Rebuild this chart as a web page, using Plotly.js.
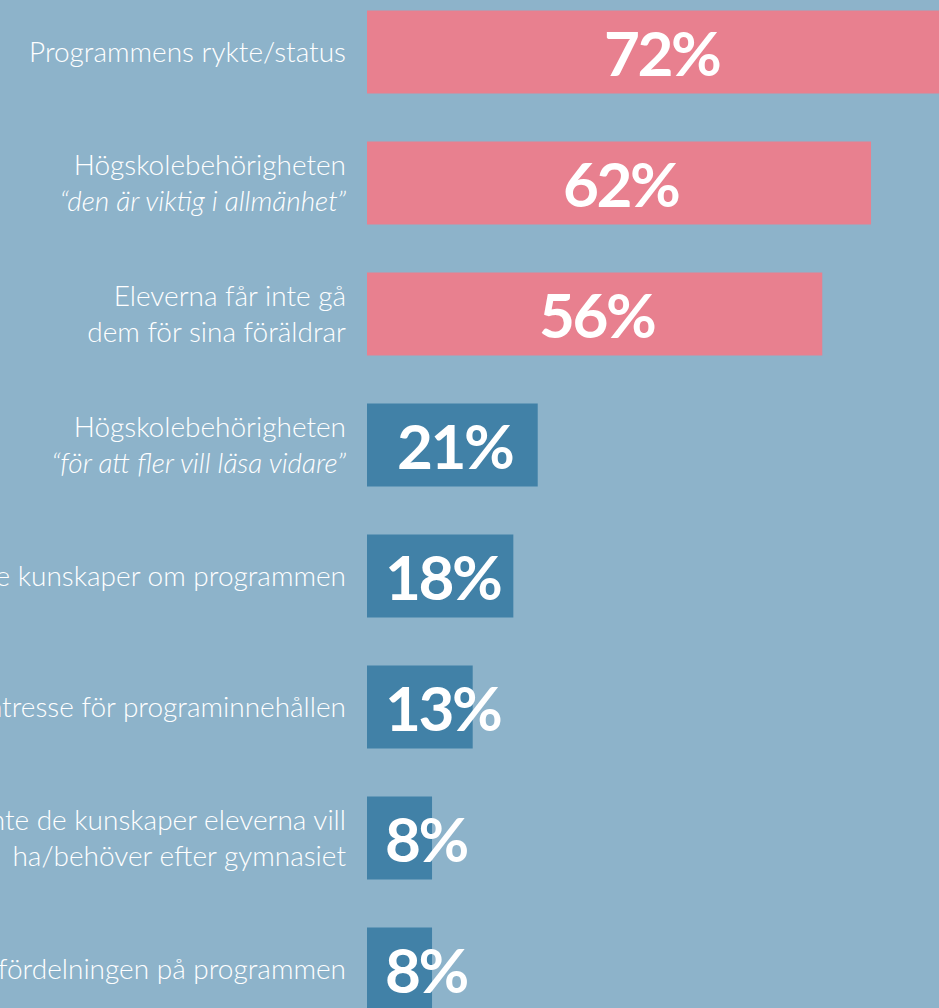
<!DOCTYPE html>
<html>
<head>
<meta charset="utf-8">
<script src="https://cdn.plot.ly/plotly-3.0.1.min.js"></script>
<style>
html,body{margin:0;padding:0;background:#8db3ca;}
#chart{width:939px;height:1008px;}
.annotation-text{letter-spacing:-2.5px;}
</style>
</head>
<body>
<div id="chart"></div>
<script>
// Data
const labels = [
  "Programmens rykte/status",
  "Högskolebehörigheten<br><i>“den är viktig i allmänhet”</i>",
  "Eleverna får inte gå<br>dem för sina föräldrar",
  "Högskolebehörigheten<br><i>“för att fler vill läsa vidare”</i>",
  "Bristande kunskaper om programmen",
  "Bristande intresse för programinnehållen",
  "Programmen ger inte de kunskaper eleverna vill<br>ha/behöver efter gymnasiet",
  "Könsfördelningen på programmen"
];
const values = [72, 62, 56, 21, 18, 13, 8, 8];

// Styles
const PINK = "#e8808f";
const BLUE = "#4181a7";
const BG = "#8db3ca";

const idx = labels.map((_, i) => i);
const colors = values.map(v => v >= 50 ? PINK : BLUE);

const trace = {
  type: "bar",
  orientation: "h",
  y: idx,
  x: values,
  width: 0.634,
  marker: {color: colors, line: {width: 0}},
  hoverinfo: "none"
};

const pxPerUnit = 572 / 70.36;
const annotations = values.map((v, i) => {
  const small = v < 15;
  return {
    x: small ? 16 / pxPerUnit : v / 2 + 0.3,
    y: i,
    xref: "x", yref: "y",
    text: v + "%",
    showarrow: false,
    xanchor: small ? "left" : "center",
    yanchor: "middle",
    font: {family: "Lato, 'Open Sans', sans-serif", size: 62, color: "#ffffff", weight: 700}
  };
});

const layout = {
  width: 939,
  height: 1008,
  margin: {l: 367, r: 0, t: 0, b: 0, pad: 0},
  paper_bgcolor: BG,
  plot_bgcolor: BG,
  showlegend: false,
  xaxis: {
    range: [0, 70.36],
    visible: false,
    fixedrange: true
  },
  yaxis: {
    range: [7.298, -0.397],
    tickmode: "array",
    tickvals: idx,
    ticktext: labels,
    showgrid: false,
    zeroline: false,
    showline: false,
    ticks: "",
    ticklabelstandoff: 20,
    tickfont: {family: "Lato, 'Open Sans', sans-serif", size: 28, color: "#ffffff", weight: 300},
    fixedrange: true
  },
  annotations: annotations
};

Plotly.newPlot("chart", [trace], layout, {displayModeBar: false, staticPlot: true});
</script>
</body>
</html>
